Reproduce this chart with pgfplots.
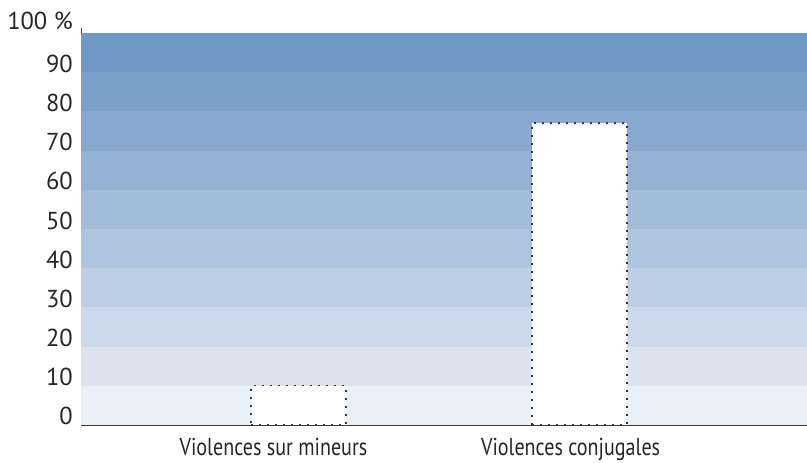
\documentclass[border=0pt]{standalone}
\usepackage{pgfplots}
\pgfplotsset{compat=1.18}
\usepackage{fontspec}
\setmainfont{PT Sans}
\newfontfamily\narrowfont{PT Sans}[FakeStretch=0.82]
\definecolor{b0}{HTML}{EAF0F8}
\definecolor{b1}{HTML}{DCE3EF}
\definecolor{b2}{HTML}{CCD9EA}
\definecolor{b3}{HTML}{BECFE5}
\definecolor{b4}{HTML}{AFC4DE}
\definecolor{b5}{HTML}{A3BCD9}
\definecolor{b6}{HTML}{95B2D4}
\definecolor{b7}{HTML}{88A9CF}
\definecolor{b8}{HTML}{7BA1CA}
\definecolor{b9}{HTML}{7099C6}
\definecolor{txt}{HTML}{262626}
\definecolor{axl}{HTML}{3A3A3A}
\begin{document}
\begin{tikzpicture}[x=1pt,y=1pt]
\path[use as bounding box] (0,0) rectangle (807,463);
\begin{axis}[
  at={(81.5pt,38pt)}, anchor=south west,
  scale only axis, width=725pt, height=397pt,
  xmin=-0.772, xmax=1.807, ymin=0, ymax=101.28,
  axis x line*=bottom, axis y line*=left,
  axis line style={axl, line width=1.5pt},
  major tick length=0pt,
  ytick={0,10,...,100},
  yticklabels={0,10,20,30,40,50,60,70,80,90,\raisebox{4pt}{100 \%}},
  yticklabel style={anchor=base east, inner sep=0pt, xshift=-8.5pt},
  xtick={-0.089,0.968},
  xticklabels={Violences sur mineurs, Violences conjugales},
  xticklabel style={anchor=base, inner sep=0pt, yshift=-30.5pt, font=\fontsize{24.5}{28}\narrowfont},
  tick label style={text=txt},
  yticklabel style={font=\fontsize{24.5}{28}\selectfont},
  /pgf/number format/assume math mode=true,
  clip=false,
]
\addplot[draw=none, fill=b0] coordinates {(-0.772,0) (1.807,0) (1.807,10) (-0.772,10)} --cycle;
\addplot[draw=none, fill=b1] coordinates {(-0.772,10) (1.807,10) (1.807,20) (-0.772,20)} --cycle;
\addplot[draw=none, fill=b2] coordinates {(-0.772,20) (1.807,20) (1.807,30) (-0.772,30)} --cycle;
\addplot[draw=none, fill=b3] coordinates {(-0.772,30) (1.807,30) (1.807,40) (-0.772,40)} --cycle;
\addplot[draw=none, fill=b4] coordinates {(-0.772,40) (1.807,40) (1.807,50) (-0.772,50)} --cycle;
\addplot[draw=none, fill=b5] coordinates {(-0.772,50) (1.807,50) (1.807,60) (-0.772,60)} --cycle;
\addplot[draw=none, fill=b6] coordinates {(-0.772,60) (1.807,60) (1.807,70) (-0.772,70)} --cycle;
\addplot[draw=none, fill=b7] coordinates {(-0.772,70) (1.807,70) (1.807,80) (-0.772,80)} --cycle;
\addplot[draw=none, fill=b8] coordinates {(-0.772,80) (1.807,80) (1.807,90) (-0.772,90)} --cycle;
\addplot[draw=none, fill=b9] coordinates {(-0.772,90) (1.807,90) (1.807,100) (-0.772,100)} --cycle;
\addplot[ybar, bar width=0.338, bar shift=0pt, fill=white, draw=black!80,
  line width=1.4pt, dash pattern=on 2pt off 6pt]
  coordinates {(0,10) (1,77)};
\end{axis}
\end{tikzpicture}
\end{document}
